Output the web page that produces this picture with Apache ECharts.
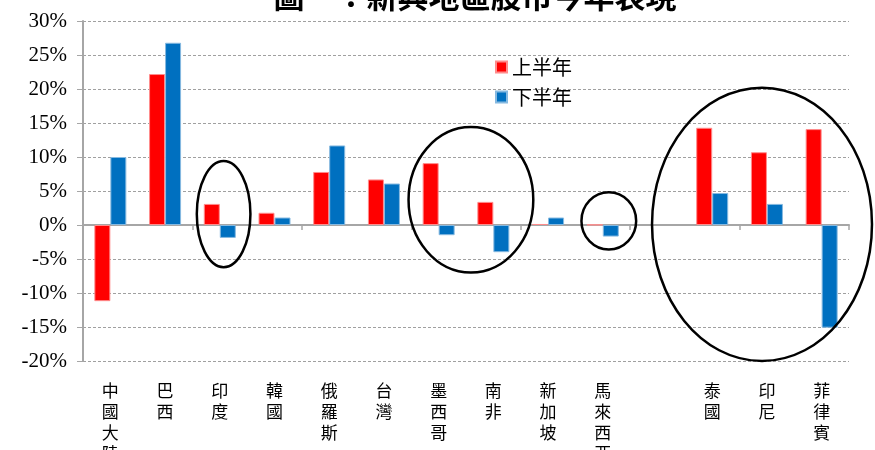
<!DOCTYPE html>
<html>
<head>
<meta charset="utf-8">
<title>新興地區股市今年表現</title>
<script src="https://cdn.jsdelivr.net/npm/echarts@6/dist/echarts.min.js"></script>
<style>
  html, body { margin: 0; padding: 0; background: #fff; }
  #main { width: 875px; height: 450px; }
</style>
</head>
<body>
<div id="main"></div>
<script>
  // ---------------- data ----------------
  const titleText = '圖一：新興地區股市今年表現';
  const categories = ['中國大陸', '巴西', '印度', '韓國', '俄羅斯', '台灣', '墨西哥', '南非',
                      '新加坡', '馬來西亞', '', '泰國', '印尼', '菲律賓'];
  const firstHalf  = [-11.2, 22.2, 3.1, 1.8, 7.8, 6.7, 9.1, 3.4, 0.15, 0.05, null, 14.3, 10.7, 14.1];
  const secondHalf = [10.0, 26.8, -1.9, 1.1, 11.7, 6.1, -1.5, -4.0, 1.1, -1.7, null, 4.7, 3.1, -15.1];
  const seriesNames = ['上半年', '下半年'];
  const yMin = -20, yMax = 30, yStep = 5;

  // hand drawn rings: centre in (category index, value), radius in (categories, value)
  const rings = [
    { cx: 2.07,  cy: 1.6, rx: 0.49, ry: 7.8 },
    { cx: 6.59,  cy: 3.7, rx: 1.14, ry: 10.7 },
    { cx: 9.11,  cy: 0.6, rx: 0.50, ry: 4.2 },
    { cx: 11.91, cy: 0.1, rx: 2.01, ry: 20.1 }
  ];

  const myChart = echarts.init(document.getElementById('main'));
  const serif = '"Liberation Serif", "Times New Roman", serif';
  const cjk = '"Noto Sans CJK TC", sans-serif';
  const gray = '#a6a6a6';

  myChart.setOption({
    animation: false,
    grid: { left: 83, right: 26, top: 21, bottom: 89, outerBoundsMode: 'none' },
    legend: {
      orient: 'vertical',
      left: 490, top: 52,
      icon: 'rect',
      itemWidth: 11, itemHeight: 11,
      itemGap: 10,
      textStyle: { fontFamily: cjk, fontSize: 20, color: '#000' },
      data: seriesNames
    },
    xAxis: [
      {
        // labels at the bottom of the plot
        type: 'category',
        data: categories,
        position: 'bottom',
        axisLine: { show: false, onZero: false },
        axisTick: { show: false },
        axisLabel: {
          interval: 0,
          margin: 19,
          fontFamily: cjk,
          fontSize: 17,
          lineHeight: 21,
          color: '#000',
          verticalAlign: 'top',
          formatter: v => v.split('').join('\n')
        }
      },
      {
        // the zero line with its ticks
        type: 'category',
        data: categories,
        position: 'bottom',
        axisLine: { show: true, onZero: true, lineStyle: { color: gray, width: 2 } },
        axisTick: { show: true, length: 5, lineStyle: { color: gray, width: 1.5 } },
        axisLabel: { show: false }
      }
    ],
    yAxis: {
      type: 'value',
      min: yMin, max: yMax, interval: yStep,
      axisLine: { show: true, lineStyle: { color: gray, width: 2 } },
      axisTick: { show: true, length: 6, lineStyle: { color: gray } },
      axisLabel: {
        margin: 16,
        fontFamily: serif,
        fontSize: 21,
        color: '#000',
        formatter: '{value}%'
      },
      splitLine: { lineStyle: { color: '#a0a0a0', type: [3, 2], width: 1 } }
    },
    series: [
      {
        name: seriesNames[0],
        type: 'bar',
        xAxisIndex: 0,
        barWidth: 16,
        barGap: 0,
        itemStyle: { color: '#ff0000', borderColor: '#ff8c8c', borderWidth: 1 },
        data: firstHalf
      },
      {
        name: seriesNames[1],
        type: 'bar',
        xAxisIndex: 0,
        barWidth: 16,
        barGap: 0,
        itemStyle: { color: '#0070c0', borderColor: '#86b9e0', borderWidth: 1 },
        data: secondHalf
      }
    ]
  });

  // rings and the cut-off title are placed from the grid's own scale
  const p0 = myChart.convertToPixel({ gridIndex: 0 }, [0, 0]);
  const p1 = myChart.convertToPixel({ gridIndex: 0 }, [1, 1]);
  const catPx = p1[0] - p0[0];
  const valPx = p0[1] - p1[1];

  const graphics = rings.map(r => ({
    type: 'ellipse',
    shape: {
      cx: p0[0] + r.cx * catPx,
      cy: p0[1] - r.cy * valPx,
      rx: r.rx * catPx,
      ry: r.ry * valPx
    },
    style: { fill: 'none', stroke: '#000', lineWidth: 2.5 },
    z: 100
  }));

  graphics.push({
    type: 'text',
    x: 475, y: -19,
    style: {
      text: titleText,
      fill: '#000',
      font: 'bold 31px ' + cjk,
      textAlign: 'center'
    },
    z: 100
  });

  myChart.setOption({ graphic: graphics });
</script>
</body>
</html>
